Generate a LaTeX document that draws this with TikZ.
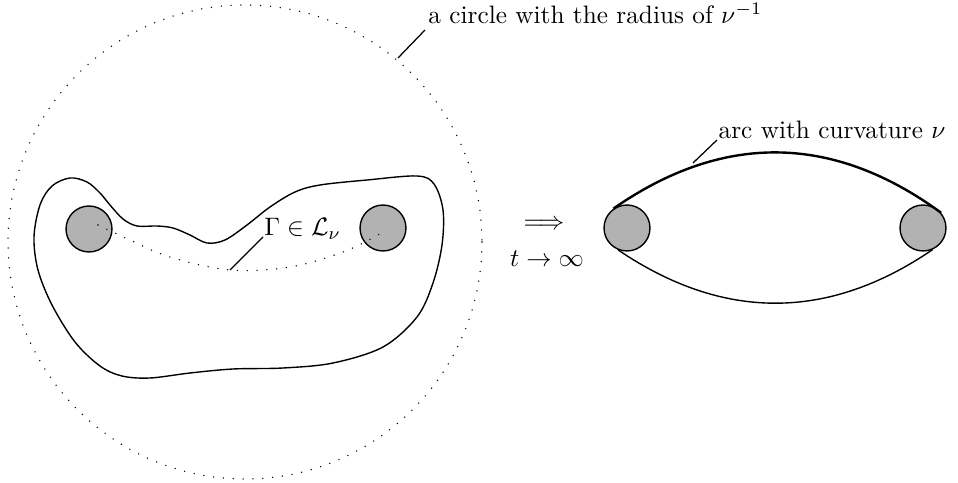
\documentclass[tikz,border=0pt]{standalone}
\usepackage{amsmath}
\usepackage{tikz}
\usetikzlibrary{positioning, calc}
\tikzset{
  disk/.style ={circle, draw, fill=black!30, line width=0.55pt, inner sep=0pt, minimum size=18.2pt},
  bd/.style   ={line width=0.55pt},
  arcb/.style ={line width=0.95pt},
  dots/.style ={line width=0.6pt, line cap=round, dash pattern=on 0pt off 3.9pt},
  ptr/.style  ={line width=0.5pt},
  lbl/.style  ={anchor=base west, inner sep=0pt},
}

\begin{document}
\begin{tikzpicture}[x=0.396pt, y=-0.396pt]
  \useasboundingbox (0,0) rectangle (958,483);
  % left picture
  \draw[dots] (245,242) circle[radius=237];
  \draw[bd] plot[smooth cycle, tension=0.55] coordinates {
    (70,178) (87,182) (100,193) (110,205) (123,219) (137,226) (157,226)
    (173,228) (190,235) (207,243) (225,240) (247,225) (270,207) (295,192)
    (320,185) (367,180) (417,176) (434,184) (443,210) (442,245) (433,283)
    (417,317) (383,347) (333,363) (283,368) (233,369) (190,373) (150,378)
    (122,376) (100,366) (75,342) (52,305) (38,270) (34,237) (40,205) (52,186)};
  \node[disk] (d1) at (89,229) {};
  \node[disk] (d2) at (383,228) {};
  \draw[dots] plot[smooth, tension=0.6] coordinates {
    (98,225) (130,240) (170,257) (230,270) (290,267) (343,252) (380,234)};
  \coordinate (gp) at (230,270);
  \coordinate (cp) at (398,58);
  \draw[ptr] (gp) -- ++(33,-33) node[lbl, xshift=0.3pt, yshift=0.6pt] (gam) {$\Gamma\in\mathcal{L}_\nu$};
  \draw[ptr] (cp) -- ++(27,-28) node[lbl, xshift=1.1pt, yshift=2.4pt] (cl) {a circle with the radius of $\nu^{-1}$};
  % arrow
  \node (imp) at (544,225) {$\Longrightarrow$};
  \node[anchor=base] (tl) at (547,267) {$t\to\infty$};
  % right picture
  \node[disk] (d3) at (627,228) {};
  \node[disk] (d4) at (923,228) {};
  \draw[arcb] (d3.125) .. controls (722,133) and (832,133) .. (d4.40);
  \draw[bd] (d3.-112) .. controls (723,321) and (828,321) .. (d4.-66);
  \coordinate (ap) at (693,163);
  \draw[ptr] (ap) -- ++(24,-23) node[lbl, xshift=0.4pt, yshift=0.6pt] (al) {arc with curvature $\nu$};
\end{tikzpicture}
\end{document}
